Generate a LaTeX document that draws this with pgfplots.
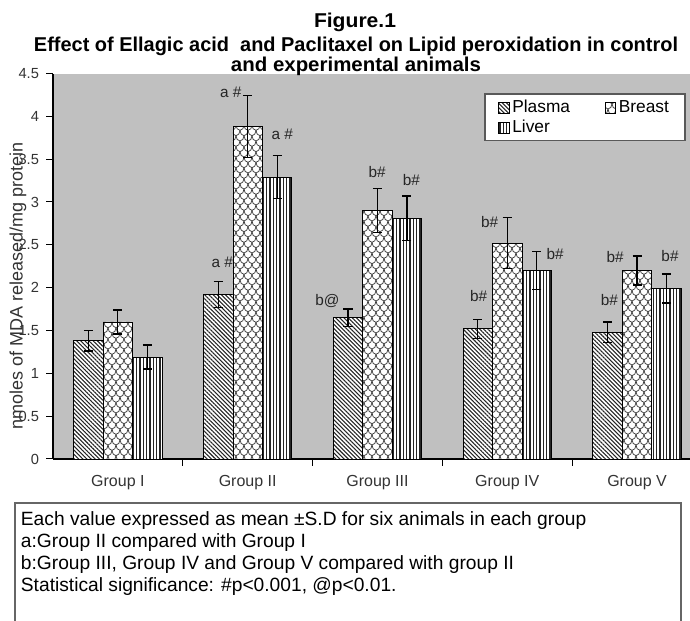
\documentclass[border=0pt]{standalone}
\usepackage{pgfplots}
\pgfplotsset{compat=1.18}
\usepackage{pgfplotstable}
\usepackage{graphicx}
\usepackage{fontspec}
\setmainfont{Liberation Sans}
\usetikzlibrary{patterns.meta}
\definecolor{plotgray}{RGB}{192,192,192}

\tikzdeclarepattern{
  name=scales,
  type=uncolored,
  bounding box={(-0.5pt,-0.5pt) and (6.5pt,8.5pt)},
  tile size={(6pt,8pt)},
  code={
    \draw[line width=0.55pt] (0pt,8pt) arc[start angle=180,end angle=360,x radius=3pt,y radius=4pt];
    \draw[line width=0.55pt] (3pt,4pt) arc[start angle=0,end angle=-90,x radius=3pt,y radius=4pt];
    \draw[line width=0.55pt] (3pt,4pt) arc[start angle=180,end angle=270,x radius=3pt,y radius=4pt];
  }
}

\pgfplotstableread{
x y e
0 1.38 0.12
1 1.92 0.15
2 1.65 0.10
3 1.52 0.11
4 1.48 0.12
}\plasma
\pgfplotstableread{
x y e
0 1.60 0.14
1 3.88 0.36
2 2.90 0.26
3 2.52 0.30
4 2.20 0.17
}\breast
\pgfplotstableread{
x y e
0 1.19 0.14
1 3.29 0.25
2 2.81 0.26
3 2.20 0.22
4 1.99 0.17
}\liver

\begin{document}
\begin{tikzpicture}
\path[use as bounding box] (0pt,0pt) rectangle (517.5pt,465.75pt);
\begin{axis}[
  at={(39.75pt,121.5pt)}, anchor=south west,
  scale only axis, width=477.75pt, height=289.125pt,
  xmin=-0.5, xmax=4.408, ymin=0, ymax=4.5,
  axis background/.style={fill=plotgray},
  axis x line*=bottom, axis y line*=left,
  axis line style={black, line width=0.8pt},
  clip=false,
  ybar=0pt, bar width=0.227,
  xtick={0.5,1.5,2.5,3.5},
  xticklabel style={text opacity=0},
  ytick={0,0.5,1,1.5,2,2.5,3,3.5,4,4.5},
  tick align=outside, major tick length=5pt,
  tick style={black, line width=0.75pt},
  yticklabel style={/pgf/number format/assume math mode=true, font=\fontsize{11}{13}\selectfont, text=black!80, xshift=-2pt},
  error bars/error bar style={line width=0.9pt, black},
  error bars/error mark options={rotate=90, mark size=3.4pt, line width=0.9pt, black},
  legend columns=2,
  legend style={at={(0.677,0.949)}, anchor=north west, draw=black!65, line width=1.1pt, fill=white,
    font=\fontsize{13}{15}\selectfont, inner xsep=10pt, inner ysep=2.5pt,
    cells={anchor=base west, inner ysep=3.3pt},
    /tikz/every even column/.append style={column sep=24pt}},
  legend image code/.code={\draw[#1, line width=0.5pt] (0pt,-0.5pt) rectangle (8pt,7.5pt);},
]
\addplot[preaction={fill=white}, pattern={Lines[angle=-45,distance=2.2pt,line width=0.8pt]}, pattern color=black!85, draw=black, line width=0.6pt,
  error bars/.cd, y dir=both, y explicit] table[x=x, y=y, y error=e] {\plasma};
\addlegendentry{Plasma}
\addplot[preaction={fill=white}, pattern=scales, pattern color=black!75, draw=black, line width=0.6pt,
  error bars/.cd, y dir=both, y explicit] table[x=x, y=y, y error=e] {\breast};
\addlegendentry{Breast}
\addplot[preaction={fill=white}, pattern={Lines[angle=90,distance=2.5pt,line width=0.9pt]}, pattern color=black!85, draw=black, line width=0.6pt,
  error bars/.cd, y dir=both, y explicit] table[x=x, y=y, y error=e] {\liver};
\addlegendentry{Liver}

\foreach \g/\lab in {0/Group I,1/Group II,2/Group III,3/Group IV,4/Group V}{
  \edef\tmp{\noexpand\node[anchor=base, yshift=-21pt, font=\noexpand\fontsize{12}{14}\noexpand\selectfont, text=black!80] at (axis cs:\g,0) {\lab};}\tmp
}

\begin{scope}[every node/.style={font=\fontsize{11.5}{13}\selectfont, text=black!85}]
\node at (axis cs:0.805,2.29) {a \#};
\node at (axis cs:0.869,4.28) {a \#};
\node at (axis cs:1.266,3.79) {a \#};
\node at (axis cs:1.615,1.84) {b@};
\node at (axis cs:1.998,3.35) {b\#};
\node at (axis cs:2.262,3.26) {b\#};
\node at (axis cs:2.779,1.90) {b\#};
\node at (axis cs:2.864,2.77) {b\#};
\node at (axis cs:3.369,2.39) {b\#};
\node at (axis cs:3.787,1.86) {b\#};
\node at (axis cs:3.831,2.36) {b\#};
\node at (axis cs:4.254,2.37) {b\#};
\end{scope}
\end{axis}

% y label
\node[rotate=90, font=\fontsize{13.5}{15}\selectfont, text=black!80] at (13.5pt,251.25pt) {nmoles of MDA released/mg protein};

% title
\node[anchor=base, font=\fontsize{15}{17}\selectfont\bfseries] at (266.25pt,444.75pt) {\resizebox{61.5pt}{\height}{Figure.1}};
\node[anchor=base, font=\fontsize{15}{17}\selectfont\bfseries] at (267pt,426.75pt) {\resizebox{483pt}{\height}{Effect of Ellagic acid\ \ and Paclitaxel on Lipid peroxidation in control}};
\node[anchor=base, font=\fontsize{15}{17}\selectfont\bfseries] at (267pt,411.75pt) {\resizebox{187.5pt}{\height}{and experimental animals}};

% note box
\draw[draw=black!60, line width=1.1pt] (11.25pt,88.5pt) rectangle (510.75pt,-10pt);
\begin{scope}[every node/.style={anchor=base west, inner sep=0pt, font=\fontsize{14.4}{16}\selectfont}]
\node at (15.5pt,71.25pt) {Each value expressed as mean ±S.D for six animals in each group};
\node at (15.5pt,54.75pt) {a:Group II compared with Group I};
\node at (15.5pt,38.25pt) {b:Group III, Group IV and Group V compared with group II};
\node at (15.5pt,21.75pt) {Statistical significance: \#p<0.001, @p<0.01.};
\end{scope}
\end{tikzpicture}
\end{document}
